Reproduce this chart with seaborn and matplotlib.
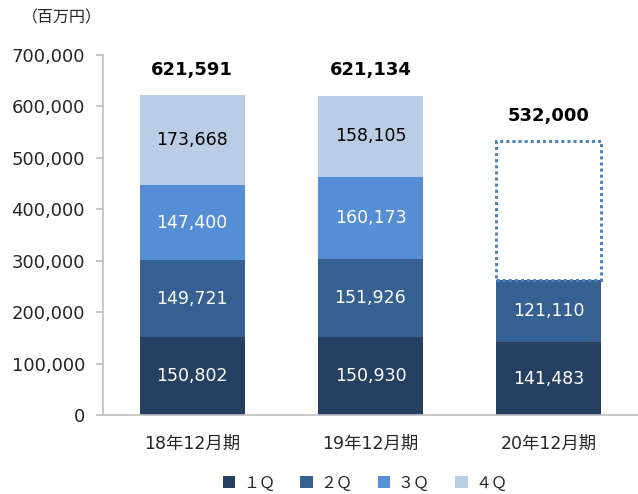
import numpy as np
import pandas as pd
import matplotlib
matplotlib.use("Agg")
import matplotlib.pyplot as plt
import seaborn as sns
from matplotlib.patches import Patch

# data
periods = ["18年12月期", "19年12月期", "20年12月期"]
quarters = ["１Ｑ", "２Ｑ", "３Ｑ", "４Ｑ"]
q1 = [150802, 150930, 141483]
q2 = [149721, 151926, 121110]
q3 = [147400, 160173, np.nan]
q4 = [173668, 158105, np.nan]
totals = [621591, 621134, 532000]
forecast_idx = 2

colors = ["#264061", "#366092", "#558ED5", "#B9CDE5"]
label_colors = ["white", "white", "white", "black"]

sns.set_theme(style="white")
plt.rcParams["font.family"] = ["DejaVu Sans", "Noto Sans CJK JP"]

df = pd.DataFrame({"period": periods, "１Ｑ": q1, "２Ｑ": q2, "３Ｑ": q3, "４Ｑ": q4})
cum = df[quarters].cumsum(axis=1)

fig = plt.figure(figsize=(6.38, 4.94), dpi=100)
ax = fig.add_axes([103 / 638, 79 / 494, 1 - 103 / 638, 360 / 494])

# stacked bars: draw cumulative tops from the last quarter down
for q, c in reversed(list(zip(quarters, colors))):
    sns.barplot(x=df["period"], y=cum[q], color=c, width=0.59, ax=ax,
                saturation=1, edgecolor="none", linewidth=0)

# segment labels
for i in range(len(periods)):
    bottom = 0
    for q, lc in zip(quarters, label_colors):
        v = df.loc[i, q]
        if pd.isna(v):
            continue
        ax.text(i, bottom + v / 2, f"{int(v):,}", ha="center", va="center",
                color=lc, fontsize=12.5)
        bottom += v

# forecast outline
done = cum.loc[forecast_idx, "２Ｑ"]
ax.bar(forecast_idx, totals[forecast_idx] - done, bottom=done, width=0.59,
       fill=False, edgecolor="#4F81BD", linestyle=(0, (1, 1)), linewidth=2.2)

# totals
for i, t in enumerate(totals):
    ax.text(i, t + 50000, f"{t:,}", ha="center", va="center",
            fontsize=13, fontweight="bold", color="black")

ax.set_xlim(-0.5, 2.5)
ax.set_ylim(0, 700000)
ax.set_yticks(range(0, 700001, 100000))
ax.set_yticklabels([f"{v:,}" for v in range(0, 700001, 100000)], fontsize=13)
ax.set_xticks(range(3))
ax.set_xticklabels(periods, fontsize=12.5, family=["DejaVu Sans", "Noto Sans CJK JP"])
ax.set_xlabel("")
ax.set_ylabel("")
ax.tick_params(axis="y", left=True, length=5, color="#BFBFBF", pad=8)
ax.tick_params(axis="x", bottom=False, pad=8)
for s in ["top", "right"]:
    ax.spines[s].set_visible(False)
for s in ["left", "bottom"]:
    ax.spines[s].set_color("#BFBFBF")
    ax.spines[s].set_linewidth(1.2)

fig.text(22 / 638, 1 - 18 / 494, "（百万円）", fontsize=11.5, va="center",
         family=["Noto Sans CJK JP"])

handles = [Patch(facecolor=c, edgecolor="none") for c in colors]
fig.legend(handles, quarters, loc="center", bbox_to_anchor=(0.572, 1 - 483 / 494),
           ncol=4, frameon=False, handlelength=0.8, handleheight=0.8,
           columnspacing=1.6, handletextpad=0.45,
           prop={"family": "Noto Sans CJK JP", "size": 11.5})

fig.savefig("out.png", dpi=100)
